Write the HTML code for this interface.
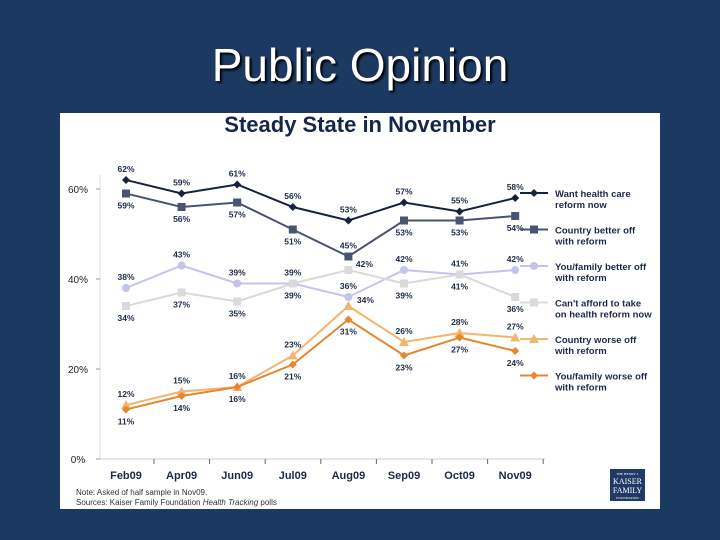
<!DOCTYPE html>
<html><head><meta charset="utf-8">
<style>
html,body{margin:0;padding:0;width:720px;height:540px;overflow:hidden;background:#1c3961;font-family:"Liberation Sans",sans-serif;}
#title{position:absolute;left:0;width:720px;top:38px;text-align:center;color:#fff;font-size:46px;text-shadow:2px 2px 2px #000;}
#panel{position:absolute;left:60px;top:113px;width:600px;height:396px;background:#fff;}
svg{position:absolute;left:0;top:0;}
</style></head>
<body>
<div id="title">Public Opinion</div>
<div id="panel"></div>
<svg id="chart" width="720" height="540"></svg>
<script>
const categories=["Feb09","Apr09","Jun09","Jul09","Aug09","Sep09","Oct09","Nov09"];
const yTicks=[0,20,40,60];
const seriesNames=["Want health care|reform now","Country better off|with reform","You/family better off|with reform","Can't afford to take|on health reform now","Country worse off|with reform","You/family worse off|with reform"];
const wantNow=[62,59,61,56,53,57,55,58];
const countryBetter=[59,56,57,51,45,53,53,54];
const youBetter=[38,43,39,39,36,42,41,42];
const cantAfford=[34,37,35,39,42,39,41,36];
const countryWorse=[12,15,16,23,34,26,28,27];
const youWorse=[11,14,16,21,31,23,27,24];
const seriesData=[wantNow,countryBetter,youBetter,cantAfford,countryWorse,youWorse];
const colors=["#15223e","#485472","#c4c4ea","#dadada","#f2b56e","#e8862e"];
const markers=["diamond","square","circle","square","triangle","diamond"];
const labelSide=[[-1,-1,-1,-1,-1,-1,-1,-1],[1,1,1,1,-1,1,1,1],[-1,-1,-1,-1,-1,-1,-1,-1],[1,1,1,1,-1,1,1,1],[-1,-1,-1,-1,-1,-1,-1,-1],[1,1,1,1,1,1,1,1]];
const labelShift=[[0,0,0,0,0,0,0,0],[0,0,0,0,0,0,0,0],[0,0,0,0,0,0,0,0],[0,0,0,0,16,0,0,0],[0,0,0,0,17,0,0,0],[0,0,0,0,0,0,0,0]];
const NS="http://www.w3.org/2000/svg";
const svg=document.getElementById('chart');
function xs(i){return 126+i*55.6;}
function ys(v){return 459-v*4.5;}
function mk(tag,a,p){const e=document.createElementNS(NS,tag);for(const k in a)e.setAttribute(k,a[k]);(p||svg).appendChild(e);return e;}
let t=mk('text',{x:360,y:132,'text-anchor':'middle','font-size':22,'font-weight':'bold',fill:'#16254a'});


t.textContent="Steady State in November";
let ax=mk('line',{x1:100,y1:175,x2:100,y2:459,stroke:'#ddd'});


let bx=mk('line',{x1:100,y1:459,x2:545,y2:459,stroke:'#ccc'});


yTicks.forEach(v=>{
 const l=mk('text',{x:78,y:ys(v)+4,'text-anchor':'middle','font-size':10,fill:'#222'});
 
 
 l.textContent=v+"%";
 mk('line',{x1:96,y1:ys(v),x2:100,y2:ys(v),stroke:'#999'});
});
categories.forEach((c,i)=>{
 mk('line',{x1:xs(i)+28,y1:459,x2:xs(i)+28,y2:464,stroke:'#666'});
 const l=mk('text',{x:xs(i),y:479,'text-anchor':'middle','font-size':11,'font-weight':'bold',fill:'#1b2a48'});
 
 
 l.textContent=c;
});
function marker(kind,x,y,col,p){
 if(kind==='diamond')return mk('polygon',{points:`${x},${y-4} ${x+4},${y} ${x},${y+4} ${x-4},${y}`,fill:col},p);
 if(kind==='square')return mk('rect',{x:x-4,y:y-4,width:8,height:8,fill:col},p);
 if(kind==='circle')return mk('circle',{cx:x,cy:y,r:4,fill:col},p);
 return mk('polygon',{points:`${x},${y-5} ${x+5},${y+4} ${x-5},${y+4}`,fill:col},p);
}
seriesData.forEach((d,s)=>{
 const g=mk('g',{});
 
 
 const ln=mk('polyline',{points:d.map((v,i)=>xs(i)+','+ys(v)).join(' '),fill:'none',stroke:colors[s],'stroke-width':2},g);
 
 
 d.forEach((v,i)=>{
  const m=marker(markers[s],xs(i),ys(v),colors[s],g);
  
  
  const side=labelSide[s][i];
  const dx=labelShift[s][i];
  const dy=dx?-3:(side<0?-8:15);
  const lb=mk('text',{x:xs(i)+dx,y:ys(v)+dy,'text-anchor':'middle','font-size':8.5,'font-weight':'bold',fill:'#1b2a48'},g);
  
  
  lb.textContent=v+"%";
 });
 const ly=193+s*36.5;
 const lg=mk('g',{},g);
 
 
 mk('line',{x1:520,y1:ly,x2:548,y2:ly,stroke:colors[s],'stroke-width':2},lg);
 marker(markers[s],534,ly,colors[s],lg);
 seriesNames[s].split('|').forEach((txt,k)=>{
  const tt=mk('text',{x:555,y:ly+4+k*11,'font-size':9.5,'font-weight':'bold',fill:'#1b2a48'},lg);
  tt.textContent=txt;
 });
});
const n1=mk('text',{x:76,y:495,'font-size':8,fill:'#333'});


n1.textContent="Note: Asked of half sample in Nov09.";
const n2=mk('text',{x:76,y:505,'font-size':8,fill:'#333'});


n2.innerHTML='Sources: Kaiser Family Foundation <tspan font-style="italic">Health Tracking</tspan> polls';
const logo=mk('g',{});


mk('rect',{x:610,y:469,width:35,height:32,fill:'#1f3a66'},logo);
[["THE HENRY J.",475,3.5],["KAISER",484,8],["FAMILY",493,8],["FOUNDATION",499,3.5]].forEach(a=>{
 const tx=mk('text',{x:627.5,y:a[1],'text-anchor':'middle','font-size':a[2],fill:'#fff','font-family':'Liberation Serif, serif'},logo);
 tx.textContent=a[0];
});
</script>
</body></html>
